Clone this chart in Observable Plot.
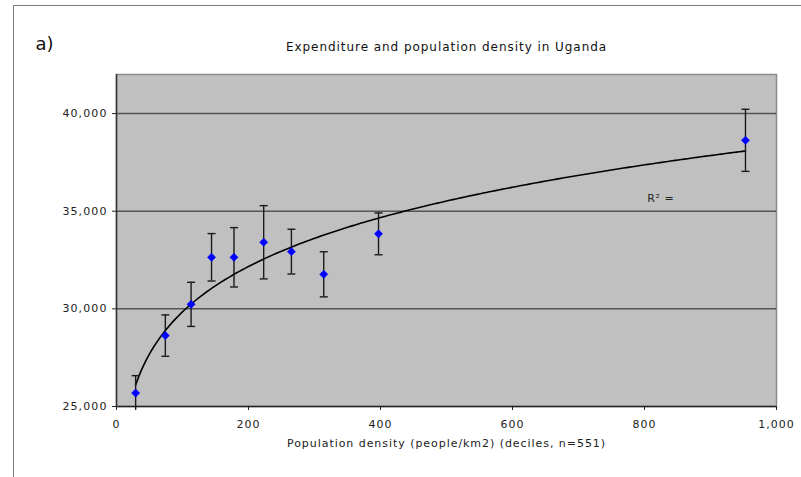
<!DOCTYPE html>
<html>
<head>
<meta charset="utf-8">
<script src="https://cdn.jsdelivr.net/npm/d3@7"></script>
<script src="https://cdn.jsdelivr.net/npm/@observablehq/plot@0.6"></script>
<style>
  html, body { margin: 0; padding: 0; background: #fff; }
  #chart { position: relative; width: 801px; height: 477px; overflow: hidden; }
  #chart .area-border {
    position: absolute; left: 13px; top: 5px; right: -4px; bottom: -4px;
    border-left: 1.5px solid #7a7a7a; border-top: 1.5px solid #7a7a7a;
    pointer-events: none;
  }
  #chart svg { position: absolute; left: 0; top: 0; }
  #chart g[aria-label="y-axis tick label"] text { letter-spacing: 1.1px; }
  #chart g[aria-label="x-axis tick label"] text { letter-spacing: 1px; }
</style>
</head>
<body>
<div id="chart"><div class="area-border"></div></div>
<script>
// Population density deciles (people/km2), mean expenditure and error half-widths
const density     = [29, 74, 113, 144, 178, 223, 265, 314, 397, 953];
const expenditure = [25690, 28630, 30230, 32640, 32640, 33410, 32930, 31770, 33840, 38630];
const errorHalf   = [890, 1060, 1130, 1215, 1520, 1875, 1145, 1155, 1070, 1590];

const xTicks = [0, 200, 400, 600, 800, 1000];
const yTicks = [25000, 30000, 35000, 40000];
const gridY  = [30000, 35000, 40000];

const titleText  = "Expenditure and population density in Uganda";
const xLabelText = "Population density (people/km2) (deciles, n=551)";
const r2Text     = "R² =";
const panelText  = "a)";

const rows = density.map((x, i) => ({
  x, y: expenditure[i], lo: expenditure[i] - errorHalf[i], hi: expenditure[i] + errorHalf[i]
}));

// Power trendline y = c * x^p, fitted by least squares on log-log values
const lx = density.map(Math.log), ly = expenditure.map(Math.log);
const mx = d3.mean(lx), my = d3.mean(ly);
const p = d3.sum(lx, (v, i) => (v - mx) * (ly[i] - my)) / d3.sum(lx, v => (v - mx) ** 2);
const c = Math.exp(my - p * mx);
const [x0, x1] = d3.extent(density);
const trend = d3.range(0, 201).map(k => {
  const x = x0 + (x1 - x0) * k / 200;
  return {x, y: c * Math.pow(x, p)};
});

// horizontal cap for the error bars
const capSymbol = {
  draw(ctx, size) {
    const w = Math.sqrt(size / Math.PI);
    ctx.moveTo(-w, 0);
    ctx.lineTo(w, 0);
  }
};

const yDomain = [25000, 42000];
const font = "DejaVu Sans, Verdana, sans-serif";

const chart = Plot.plot({
  width: 801,
  height: 477,
  marginLeft: 116,
  marginRight: 25,
  marginTop: 74,
  marginBottom: 71,
  style: {fontFamily: font, fontSize: "11px", color: "#222", background: "transparent", overflow: "visible"},
  x: {domain: [0, 1000]},
  y: {domain: yDomain},
  marks: [
    Plot.frame({fill: "#c0c0c0", stroke: "#8a8a8a", strokeWidth: 1.5}),
    Plot.ruleY(gridY, {stroke: "#555", strokeWidth: 1.5}),
    Plot.axisX({ticks: xTicks, tickFormat: d3.format(","), tickSize: 4, tickPadding: 10, label: null, stroke: "#222", fill: "#222"}),
    Plot.axisY({ticks: yTicks, tickFormat: d3.format(","), tickSize: 4, tickPadding: 5, label: null, stroke: "#222", fill: "#222"}),
    Plot.ruleX([0], {stroke: "#333", strokeWidth: 1.5}),
    Plot.ruleY([25000], {stroke: "#222", strokeWidth: 1.5}),
    Plot.line(trend, {x: "x", y: "y", stroke: "#000", strokeWidth: 1.6, curve: "linear"}),
    Plot.ruleX(rows, {x: "x", y1: "lo", y2: "hi", stroke: "#1a1a1a", strokeWidth: 1.4}),
    Plot.dot(rows, {x: "x", y: "hi", symbol: capSymbol, r: 4, stroke: "#1a1a1a", strokeWidth: 1.4, fill: "none"}),
    Plot.dot(rows, {filter: d => d.lo >= yDomain[0], x: "x", y: "lo", symbol: capSymbol, r: 4, stroke: "#1a1a1a", strokeWidth: 1.4, fill: "none"}),
    Plot.dot(rows, {x: "x", y: "y", symbol: "diamond2", r: 3.7, fill: "#0000ff", stroke: "#0000ff", strokeWidth: 0.5}),
    Plot.text([r2Text], {x: 804, y: 35650, textAnchor: "start", fontSize: 11, fill: "#222"}),
    Plot.text([titleText], {frameAnchor: "top", dy: -32, fontSize: 12, fill: "#111"}),
    Plot.text([xLabelText], {frameAnchor: "bottom", dy: 40, fontSize: 11, fill: "#222"}),
    Plot.text([panelText], {frameAnchor: "top-left", dx: -81, dy: -37, textAnchor: "start", fontSize: 18, fill: "#111"})
  ]
});

// wider letter spacing for the annotation texts
const spacing = new Map([[titleText, 0.95], [xLabelText, 0.95], [r2Text, 0.6]]);
d3.select(chart).selectAll("text").each(function() {
  const s = spacing.get(this.textContent);
  if (s != null) this.setAttribute("letter-spacing", s);
});

document.getElementById("chart").appendChild(chart);
</script>
</body>
</html>
